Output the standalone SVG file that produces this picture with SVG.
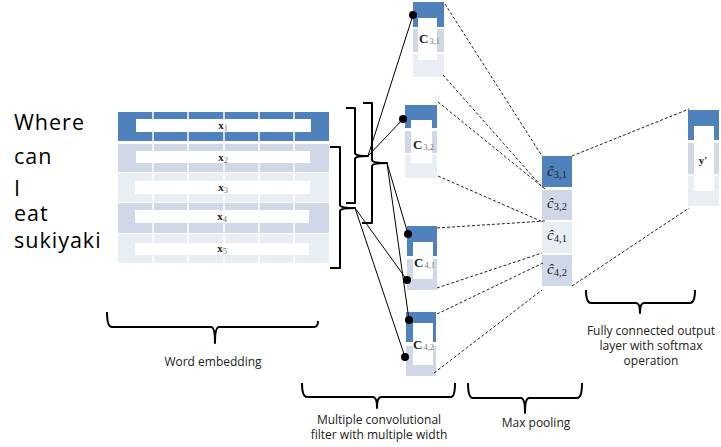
<svg xmlns="http://www.w3.org/2000/svg" width="721" height="447" viewBox="0 0 721 447">
<defs>
<style>
.dk{fill:#4f81bd}
.md{fill:#d0d8e8}
.lt{fill:#e9edf4}
.wh{fill:#ffffff}
.sep{stroke:#ffffff;stroke-width:1.5}
.word{font-family:"Open Sans","DejaVu Sans",sans-serif;font-size:21.5px;letter-spacing:1px;fill:#000}
.cap{font-family:"Open Sans","DejaVu Sans",sans-serif;font-size:12px;fill:#222;text-anchor:middle}
.xl{font-family:"Liberation Serif",serif;font-weight:bold;font-size:11px;fill:#222;text-anchor:middle}
.cl{font-family:"Liberation Serif",serif;font-weight:bold;font-size:13px;fill:#222}
.sub{font-weight:normal;font-size:8.5px;fill:#777}
.hat{font-family:"Liberation Serif",serif;font-style:italic;font-size:15px;fill:#222;text-anchor:middle}
.hsub{font-style:normal;font-size:10.5px}
.br{fill:none;stroke:#000;stroke-width:2;stroke-linejoin:round}
.sl{stroke:#000;stroke-width:1;fill:none}
.dl{stroke:#222;stroke-width:1;stroke-dasharray:3,2;fill:none}
</style>
</defs>
<rect width="721" height="447" fill="#ffffff"/>

<g id="words">
<text class="word" x="14" y="130">Where</text>
<text class="word" x="14" y="164">can</text>
<text class="word" x="14" y="196">I</text>
<text class="word" x="14" y="221">eat</text>
<text class="word" x="14" y="248">sukiyaki</text>
</g>

<g id="embedding">
<rect class="dk" x="118" y="112" width="211" height="29"/>
<rect class="md" x="118" y="144" width="211" height="28"/>
<rect class="lt" x="118" y="173" width="211" height="29"/>
<rect class="md" x="118" y="203" width="211" height="30"/>
<rect class="lt" x="118" y="234" width="211" height="29"/>
<g class="sep">
<line x1="153" y1="112" x2="153" y2="263"/>
<line x1="188" y1="112" x2="188" y2="263"/>
<line x1="224" y1="112" x2="224" y2="263"/>
<line x1="259" y1="112" x2="259" y2="263"/>
<line x1="294" y1="112" x2="294" y2="263"/>
</g>
<rect class="wh" x="136" y="119" width="175" height="13"/>
<rect class="wh" x="136" y="151" width="174" height="12"/>
<rect class="wh" x="135" y="181" width="175" height="13"/>
<rect class="wh" x="135" y="210" width="174" height="13"/>
<rect class="wh" x="135" y="243" width="174" height="12"/>
<text class="xl" x="223" y="129">x<tspan class="sub" dy="1.5" fill="#222">1</tspan></text>
<text class="xl" x="223" y="161">x<tspan class="sub" dy="1.5" fill="#222">2</tspan></text>
<text class="xl" x="223" y="191">x<tspan class="sub" dy="1.5" fill="#222">3</tspan></text>
<text class="xl" x="222" y="220">x<tspan class="sub" dy="1.5" fill="#222">4</tspan></text>
<text class="xl" x="222" y="252">x<tspan class="sub" dy="1.5" fill="#222">5</tspan></text>
</g>

<g id="braces">
<path class="br" d="M346,108 L355,108 L355,153 Q355,156 368,156 Q355,156 355,159 L355,203 L346,203"/>
<path class="br" d="M363,103 L372,103 L372,160 Q372,163 387,163 Q372,163 372,166 L372,223 L362,223"/>
<path class="br" d="M330,147 L340,147 L340,205 Q340,208 355,208 Q340,208 340,211 L340,268 L330,268"/>
</g>

<g id="c31">
<rect class="dk" x="413" y="2" width="31" height="25"/>
<rect class="md" x="413" y="29" width="31" height="23"/>
<rect class="lt" x="413" y="54" width="31" height="23"/>
<rect class="wh" x="418" y="18" width="19" height="42"/>
<text class="cl" x="419" y="43">C<tspan class="sub" dx="1" dy="1">3,1</tspan></text>
</g>
<g id="c32">
<rect class="dk" x="405" y="105" width="32" height="23"/>
<rect class="md" x="405" y="131" width="32" height="22"/>
<rect class="lt" x="405" y="155" width="32" height="23"/>
<rect class="wh" x="411" y="120" width="21" height="43"/>
<text class="cl" x="413" y="149">C<tspan class="sub" dx="1" dy="1">3,2</tspan></text>
</g>
<g id="c41">
<rect class="dk" x="407" y="226" width="30" height="30"/>
<rect class="md" x="407" y="259" width="30" height="31"/>
<rect class="wh" x="413" y="242" width="20" height="37"/>
<text class="cl" x="414" y="267">C<tspan class="sub" dx="1" dy="1">4,1</tspan></text>
</g>
<g id="c42">
<rect class="dk" x="406" y="312" width="30" height="30"/>
<rect class="md" x="406" y="346" width="30" height="30"/>
<rect class="wh" x="413" y="323" width="20" height="42"/>
<text class="cl" x="413" y="349">C<tspan class="sub" dx="1" dy="1">4,2</tspan></text>
</g>

<g id="pooled">
<rect class="dk" x="542" y="156" width="30" height="31"/>
<rect class="md" x="542" y="190" width="30" height="30"/>
<rect class="lt" x="542" y="222" width="30" height="31"/>
<rect class="md" x="542" y="255" width="30" height="31"/>
<text class="hat" x="557" y="176">ĉ<tspan class="hsub" dy="2">3,1</tspan></text>
<text class="hat" x="557" y="208">ĉ<tspan class="hsub" dy="2">3,2</tspan></text>
<text class="hat" x="557" y="240">ĉ<tspan class="hsub" dy="2">4,1</tspan></text>
<text class="hat" x="557" y="274">ĉ<tspan class="hsub" dy="2">4,2</tspan></text>
</g>

<g id="output">
<rect class="dk" x="688" y="110" width="31" height="30"/>
<rect class="md" x="688" y="143" width="31" height="31"/>
<rect class="lt" x="688" y="176" width="31" height="30"/>
<rect class="wh" x="694" y="126" width="20" height="65"/>
<text class="xl" x="703" y="164" font-size="12">y'</text>
</g>

<g id="connectors">
<line class="sl" x1="368" y1="156" x2="413" y2="15"/>
<line class="sl" x1="368" y1="156" x2="403" y2="119"/>
<line class="sl" x1="387" y1="163" x2="408" y2="234"/>
<line class="sl" x1="387" y1="163" x2="409" y2="320"/>
<line class="sl" x1="355" y1="208" x2="407" y2="280"/>
<line class="sl" x1="355" y1="208" x2="405" y2="357"/>
<g fill="#000">
<circle cx="413" cy="15" r="4"/>
<circle cx="403" cy="119" r="4"/>
<circle cx="408" cy="234" r="4"/>
<circle cx="407" cy="280" r="4"/>
<circle cx="409" cy="320" r="4"/>
<circle cx="405" cy="357" r="4"/>
</g>
<line class="dl" x1="445" y1="4" x2="542" y2="156"/>
<line class="dl" x1="443" y1="75" x2="543" y2="188"/>
<line class="dl" x1="438" y1="102" x2="545" y2="189"/>
<line class="dl" x1="438" y1="176" x2="543" y2="222"/>
<line class="dl" x1="437" y1="228" x2="545" y2="221"/>
<line class="dl" x1="437" y1="288" x2="542" y2="253"/>
<line class="dl" x1="437" y1="314" x2="543" y2="263"/>
<line class="dl" x1="434" y1="373" x2="542" y2="290"/>
<line class="dl" x1="572" y1="156" x2="689" y2="109"/>
<line class="dl" x1="572" y1="286" x2="689" y2="208"/>
</g>

<g id="bottom-braces">
<path class="br" d="M107,312 Q107,327 112,327 L211,327 Q215,327 215,343 Q215,327 219,327 L314,327 Q318,327 318,321"/>
<path class="br" d="M302,383 Q302,397 307,397 L373,397 Q377,397 377,408 Q377,397 381,397 L451,397 Q455,397 455,383"/>
<path class="br" d="M468,383 Q468,398 473,398 L521,398 Q525,398 525,413 Q525,398 529,398 L577,398 Q582,398 582,383"/>
<path class="br" d="M586,290 Q586,303 591,303 L636,303 Q640,303 640,313 Q640,303 644,303 L690,303 Q695,303 695,290"/>
</g>

<g id="labels">
<text class="cap" x="213" y="366">Word embedding</text>
<text class="cap" x="379" y="424">Multiple convolutional</text>
<text class="cap" x="379" y="439">filter with multiple width</text>
<text class="cap" x="536" y="427">Max pooling</text>
<text class="cap" x="651" y="335">Fully connected output</text>
<text class="cap" x="651" y="350">layer with softmax</text>
<text class="cap" x="651" y="365">operation</text>
</g>
</svg>
